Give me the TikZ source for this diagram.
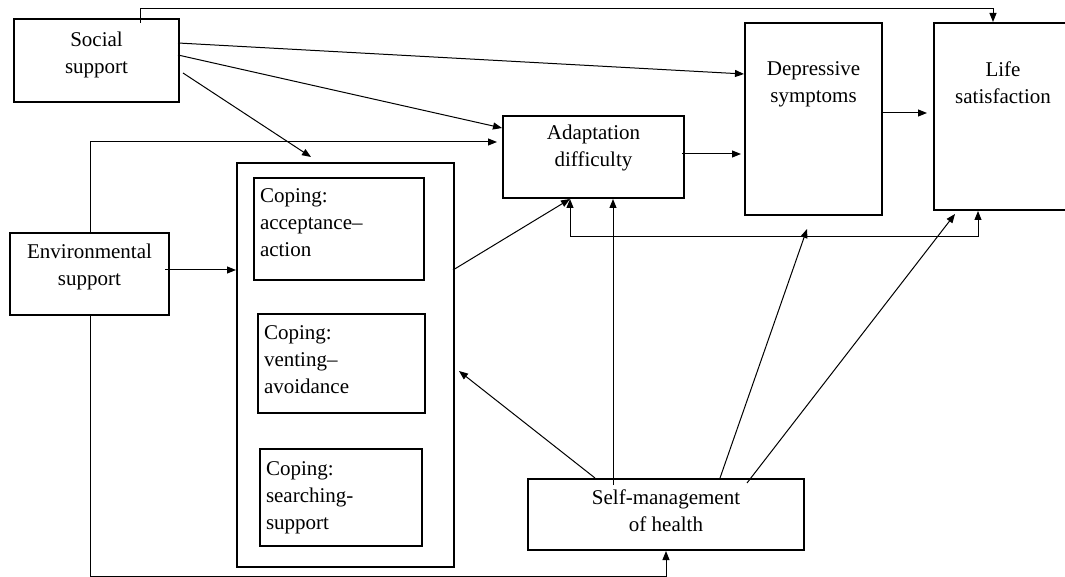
\documentclass[tikz,border=0pt]{standalone}
\usepackage{fontspec}
\setmainfont{Liberation Serif}
\usepackage{tikz}
\usetikzlibrary{arrows.meta,calc}

\newlength{\unitpx}
\setlength{\unitpx}{0.5pt}
% box text: width, height, top padding (in px), text
\newcommand{\boxtxt}[4]{\parbox[c][#2\unitpx][t]{#1\unitpx}{\vspace*{#3\unitpx}\centering #4}}
\newcommand{\leftboxtxt}[4]{\parbox[c][#2\unitpx][t]{#1\unitpx}{\vspace*{#3\unitpx}\raggedright\leftskip=6\unitpx #4}}

\begin{document}
\begin{tikzpicture}[x=0.5pt,y=-0.5pt]
\tikzstyle{rbox}=[draw, line width=1pt, inner sep=0pt, anchor=north west, font=\fontsize{10.5}{13.5}\selectfont]
\tikzstyle{arr}=[line width=0.5pt, -{Triangle[length=4.5pt,width=3.5pt]}]
\tikzstyle{arrboth}=[line width=0.5pt, {Triangle[length=4.5pt,width=3.5pt]}-{Triangle[length=4.5pt,width=3.5pt]}]
\useasboundingbox (0,0) rectangle (1065,577);

\node[rbox] (soc) at (13,18) {\boxtxt{165}{83}{13}{Social\\support}};
\node[rbox] (env) at (9,232) {\boxtxt{159}{82}{11}{Environmental\\support}};
\node[rbox, minimum width=217\unitpx, minimum height=404\unitpx] (cope) at (236,162) {};
\node[rbox] (acc) at (253,177) {\leftboxtxt{170}{102}{11}{Coping:\\acceptance–\\action}};
\node[rbox] (vent) at (257,313) {\leftboxtxt{167}{99}{12}{Coping:\\venting–\\avoidance}};
\node[rbox] (srch) at (259,448) {\leftboxtxt{162}{97}{13}{Coping:\\searching-\\support}};
\node[rbox] (adapt) at (502,115) {\boxtxt{181}{82}{9}{Adaptation\\difficulty}};
\node[rbox] (dep) at (744,22) {\boxtxt{137}{192}{39}{Depressive\\symptoms}};
\node[rbox] (life) at (933,22) {\boxtxt{138}{187}{39}{Life\\satisfaction}};
\node[rbox] (self) at (527,478) {\boxtxt{276}{71}{11}{Self-management\\of health}};

% social support
\draw[arr] ($(soc.north west)+(127,5)$) -- ++(0,-14) -| ($(life.north west)+(60,0)$);
\draw[arr] ($(soc.north east)+(-2,25)$) -- ($(dep.north west)+(0,52)$);
\draw[arr] ($(soc.north east)+(-2,37)$) -- ($(adapt.north west)+(0,13)$);
\draw[arr] ($(soc.north east)+(3,55)$) -- ($(cope.north west)+(75,-5)$);

% environmental support
\draw[arr, shorten >=2.5pt] ($(env.north west)+(81,0)$) |- ($(adapt.north west)+(0,27)$);
\draw[arr] ($(env.north east)+(-5,38)$) -- ($(cope.north west)+(0,108)$);
\draw[arr] ($(env.south west)+(81,0)$) -- ++(0,260) -| ($(self.south west)+(139,0)$);

% coping and outcomes
\draw[arr] ($(cope.north east)+(-2,108)$) -- ($(adapt.south west)+(68,0)$);
\draw[arr, shorten >=1.5pt] ($(adapt.north east)+(-3,39)$) -- ($(dep.north west)+(0,132)$);
\draw[arr, shorten >=3pt] ($(dep.north east)+(-1,91)$) -- ($(life.north west)+(0,91)$);
\draw[arrboth] ($(adapt.south west)+(68,0)$) -- ++(0,38) -| ($(life.south west)+(45,0)$);

% self-management of health
\draw[arr] ($(self.north west)+(68,0)$) -- ($(cope.north east)+(4,209)$);
\draw[arr] ($(self.north west)+(86,7)$) -- ($(adapt.south west)+(111,0)$);
\draw[arr] ($(self.north west)+(193,0)$) -- ($(dep.south west)+(63,13)$);
\draw[arr] ($(self.north west)+(220,5)$) -- ($(life.south west)+(22,3)$);
\end{tikzpicture}
\end{document}
